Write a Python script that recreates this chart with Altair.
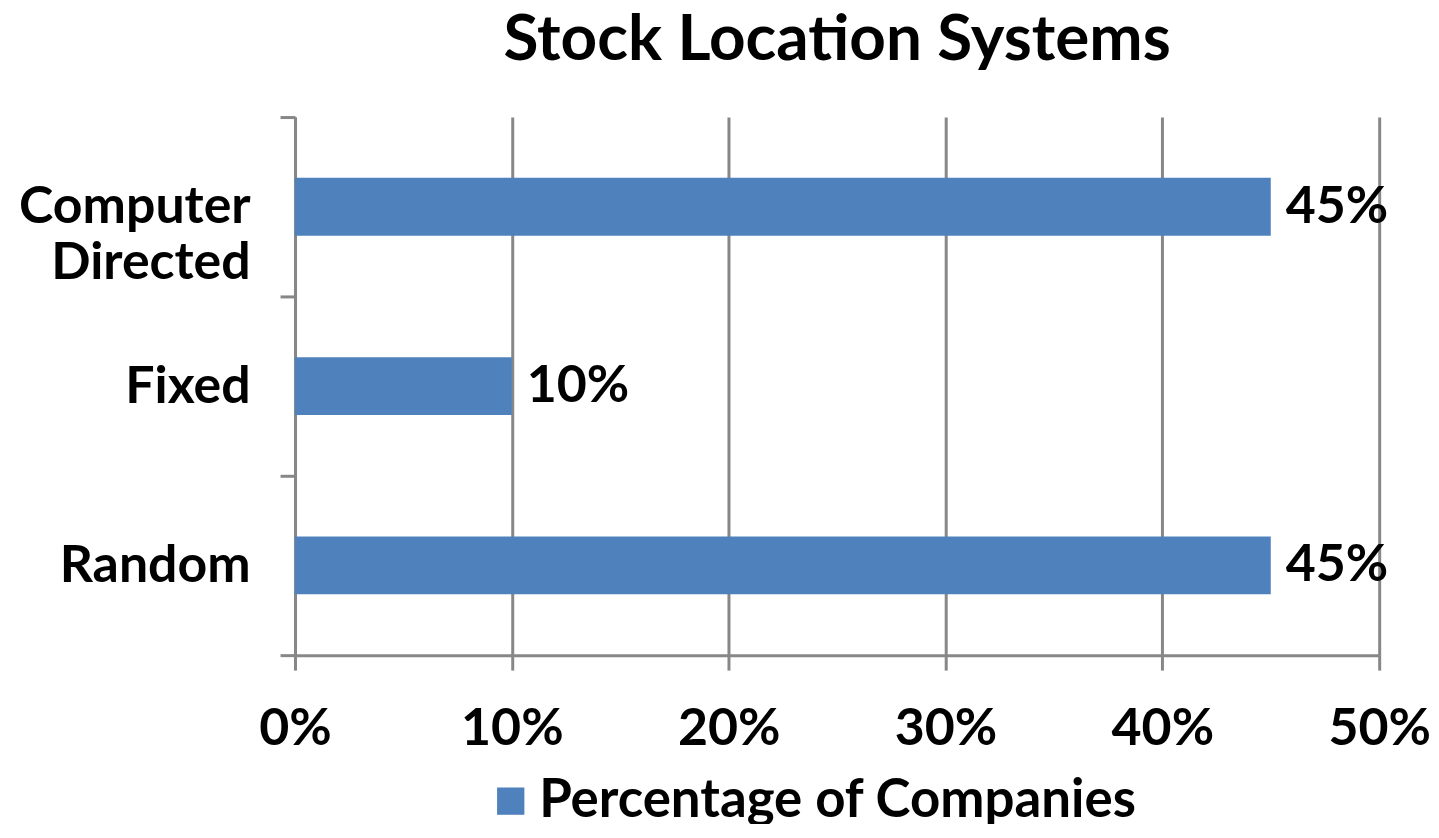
import altair as alt
import pandas as pd

categories = ["Computer Directed", "Fixed", "Random"]
values = [0.45, 0.10, 0.45]
series_name = "Percentage of Companies"
x_ticks = [0.0, 0.1, 0.2, 0.3, 0.4, 0.5]

df = pd.DataFrame({
    "category": categories,
    "value": values,
    "series": [series_name] * len(categories),
})

FONT = "Lato"
GRID = "#878787"
BLUE = "#4F81BD"
FS = 52

y_enc = alt.Y(
    "category:N",
    sort=categories,
    title=None,
    scale=alt.Scale(paddingInner=0, paddingOuter=0),
    axis=alt.Axis(
        tickBand="extent",
        ticks=True,
        tickSize=15,
        tickWidth=3,
        tickColor=GRID,
        domainColor=GRID,
        domainWidth=3,
        grid=False,
        labelFont=FONT,
        labelFontSize=FS,
        labelFontWeight="bold",
        labelColor="black",
        labelPadding=30,
        labelLimit=0,
        labelExpr="split(datum.label, ' ')",
        labelLineHeight=56,
    ),
)

x_enc = alt.X(
    "value:Q",
    title=None,
    scale=alt.Scale(domain=[0, 0.5], nice=False),
    axis=alt.Axis(
        values=x_ticks,
        format=".0%",
        grid=True,
        gridColor=GRID,
        gridWidth=3,
        gridOpacity=1,
        tickSize=15,
        tickWidth=3,
        tickColor=GRID,
        domainColor=GRID,
        domainWidth=3,
        labelFont=FONT,
        labelFontSize=FS,
        labelFontWeight="bold",
        labelColor="black",
        labelPadding=34,
        labelFlush=False,
    ),
)

bars = alt.Chart(df).mark_bar(size=58).encode(
    y=y_enc,
    x=x_enc,
    color=alt.Color(
        "series:N",
        scale=alt.Scale(range=[BLUE]),
        legend=alt.Legend(
            orient="none",
            legendX=190,
            legendY=660,
            title=None,
            symbolType="square",
            symbolSize=750,
            symbolStrokeWidth=0,
            symbolOpacity=1,
            labelFont=FONT,
            labelFontSize=53,
            labelFontWeight="bold",
            labelColor="black",
            labelLimit=0,
            labelOffset=2,
            padding=0,
        ),
    ),
)

labels = alt.Chart(df).mark_text(
    align="left",
    baseline="middle",
    dx=15,
    font=FONT,
    fontSize=FS,
    fontWeight="bold",
    color="black",
).encode(
    y=alt.Y("category:N", sort=categories),
    x=alt.X("value:Q"),
    text=alt.Text("value:Q", format=".0%"),
)

chart = (
    alt.layer(bars, labels)
    .properties(
        width=1088,
        height=540,
        title=alt.TitleParams(
            "Stock Location Systems",
            font=FONT,
            fontSize=64,
            fontWeight="bold",
            color="black",
            anchor="middle",
            offset=18,
        ),
        padding={"left": 10, "top": 0, "right": 0, "bottom": -6},
    )
    .configure_view(stroke=None)
)

chart.save("out.html", embed_options={"renderer": "svg", "actions": False})
